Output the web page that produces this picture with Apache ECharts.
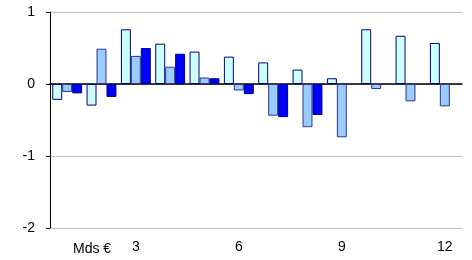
<!DOCTYPE html>
<html>
<head>
<meta charset="utf-8">
<title></title>
<script src="https://cdn.jsdelivr.net/npm/echarts@6/dist/echarts.min.js"></script>
<style type="text/css">
	body { margin: 0; background: #fff; }
	div#chart { width: 472px; height: 260px; }
</style>
</head>
<body>
<div id="chart"></div>
<script type="text/javascript">
var months = ['1', '2', '3', '4', '5', '6', '7', '8', '9', '10', '11', '12'];
var serieA = [-0.22, -0.30, 0.76, 0.56, 0.45, 0.38, 0.30, 0.20, 0.08, 0.76, 0.67, 0.57];
var serieB = [-0.11, 0.49, 0.39, 0.24, 0.09, -0.09, -0.44, -0.60, -0.74, -0.07, -0.24, -0.31];
var serieC = [-0.13, -0.18, 0.50, 0.42, 0.08, -0.14, -0.46, -0.43, null, null, null, null];
var yTicks = [-2, -1, 0, 1];
var unitLabel = 'Mds €';

var myChart = echarts.init(document.getElementById('chart'));
var font = 'Liberation Sans, Arial, sans-serif';

function barSerie(data, fill, border) {
	return {
		type: 'bar',
		data: data,
		xAxisIndex: 0,
		barGap: 0,
		barCategoryGap: '13%',
		itemStyle: { color: fill, borderColor: border, borderWidth: 1 },
		emphasis: { disabled: true }
	};
}

var option = {
	animation: false,
	grid: { left: 50, right: 10, top: 12, bottom: 32 },
	xAxis: [{
		type: 'category',
		data: months,
		axisLine: { onZero: false, show: false },
		axisTick: { show: false },
		axisLabel: {
			interval: function (i) { return (i + 1) % 3 === 0; },
			margin: 12,
			color: '#000',
			fontFamily: font,
			fontSize: 14
		}
	}, {
		// ligne du zéro
		type: 'category',
		data: months,
		position: 'bottom',
		axisLine: { onZero: true, lineStyle: { color: '#000', width: 1.5 } },
		axisTick: { show: false },
		axisLabel: { show: false }
	}],
	yAxis: {
		type: 'value',
		min: yTicks[0],
		max: yTicks[yTicks.length - 1],
		interval: 1,
		axisLine: { show: true, lineStyle: { color: '#000' } },
		axisTick: { show: true, length: 4, lineStyle: { color: '#000' } },
		axisLabel: { margin: 15, color: '#000', fontFamily: font, fontSize: 14 },
		splitLine: { lineStyle: { color: '#c0c0c0' } }
	},
	graphic: [{
		type: 'text',
		left: 73,
		top: 242,
		style: { text: unitLabel, font: '14px ' + font, fill: '#000' }
	}],
	series: [
		barSerie(serieA, '#ccffff', '#000080'),
		barSerie(serieB, '#99ccff', '#33338f'),
		barSerie(serieC, '#0000ff', '#000080')
	]
};

myChart.setOption(option);
</script>
</body>
</html>
